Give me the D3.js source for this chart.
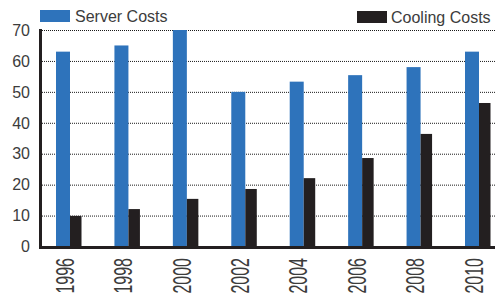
<!DOCTYPE html>
<html><head><meta charset="utf-8">
<script src="https://cdn.jsdelivr.net/npm/d3@7"></script>
<style>html,body{margin:0;padding:0;background:#fff;}</style>
</head><body>
<svg id="c" width="495" height="297"></svg>
<script>
const years = ["1996","1998","2000","2002","2004","2006","2008","2010"];
const serverCosts = [63, 65, 70, 50, 53.3, 55.4, 58, 63];
const coolingCosts = [9.9, 12.1, 15.4, 18.6, 22.1, 28.6, 36.4, 46.4];
const yTicks = [0,10,20,30,40,50,60,70];
const seriesNames = ["Server Costs","Cooling Costs"];
const colors = ["#2e73bb","#231f20"];

const svg = d3.select("#c");
const font = "'Liberation Sans', Arial, sans-serif";
const y = d3.scaleLinear().domain([0,70]).range([246.5,30]);
const x = d3.scalePoint().domain(years).range([64.5,473.5]);

// gridlines
svg.append("g").selectAll("line").data(yTicks.filter(d=>d>0)).join("line")
  .attr("x1",42).attr("x2",495).attr("y1",d=>y(d)+0.5).attr("y2",d=>y(d)+0.5)
  .attr("stroke","#1a1a1a").attr("stroke-width",1).attr("stroke-dasharray","1,1");

// bars
svg.append("g").selectAll("rect").data(years).join("rect")
  .attr("x",d=>x(d)-8.5).attr("width",14)
  .attr("y",(d,i)=>y(serverCosts[i])).attr("height",(d,i)=>y(0)-y(serverCosts[i]))
  .attr("fill",colors[0]);
svg.append("g").selectAll("rect").data(years).join("rect")
  .attr("x",d=>x(d)+5.5).attr("width",11.5)
  .attr("y",(d,i)=>y(coolingCosts[i])).attr("height",(d,i)=>y(0)-y(coolingCosts[i]))
  .attr("fill",colors[1]);

// axes lines
svg.append("rect").attr("x",39).attr("y",29).attr("width",3).attr("height",220).attr("fill","#231f20");
svg.append("rect").attr("x",39).attr("y",246).attr("width",456).attr("height",3).attr("fill","#231f20");

// y tick labels
svg.append("g").selectAll("text").data(yTicks).join("text")
  .attr("x",30).attr("y",d=>y(d)).attr("dy","0.36em")
  .attr("text-anchor","end").attr("font-family",font).attr("font-size",16)
  .attr("fill","#3c3c3c").text(d=>d);

// x tick labels (rotated, vertically stretched)
svg.append("g").selectAll("text").data(years).join("text")
  .attr("transform",d=>`translate(${x(d)},258) rotate(-90) scale(1,1.6)`)
  .attr("dy","0.36em").attr("text-anchor","end")
  .attr("font-family",font).attr("font-size",16).attr("fill","#3c3c3c").text(d=>d);

// legend
const leg = [{x:40,y:10,tx:75},{x:357,y:11,tx:391}];
leg.forEach((l,i)=>{
  svg.append("rect").attr("x",l.x).attr("y",l.y).attr("width",30).attr("height",12).attr("fill",colors[i]);
  svg.append("text").attr("x",l.tx).attr("y",l.y+6).attr("dy","0.36em")
    .attr("font-family",font).attr("font-size",16).attr("fill","#3c3c3c").text(seriesNames[i]);
});
</script>
</body></html>
